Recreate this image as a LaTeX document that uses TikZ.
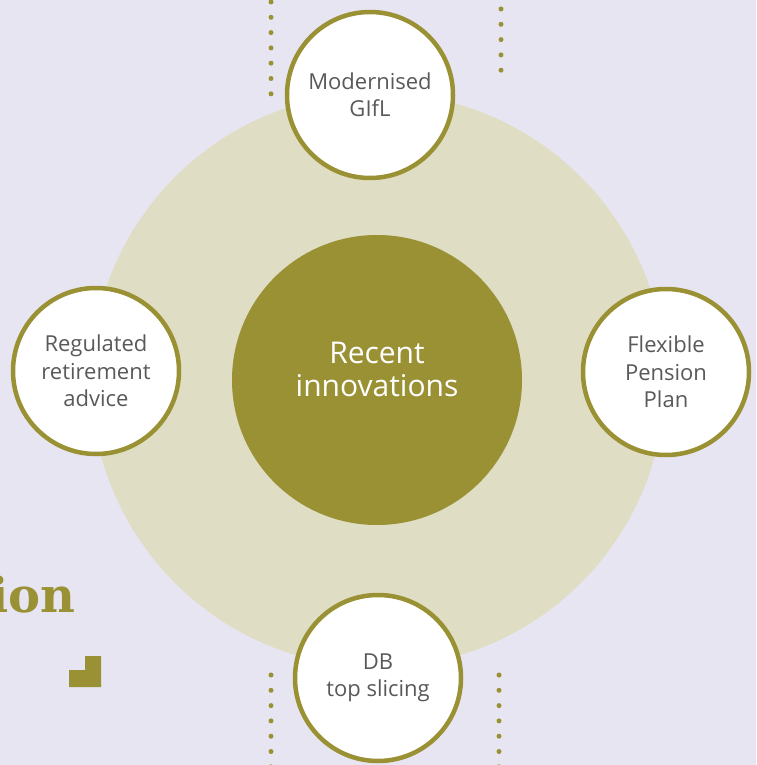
\documentclass[tikz,border=0pt]{standalone}
\usepackage{fontspec}
\setmainfont{Open Sans}
\newfontfamily\slabfont{DejaVu Serif}
\definecolor{bgLav}{HTML}{E7E5F2}
\definecolor{ringBeige}{HTML}{DFDDC3}
\definecolor{olive}{HTML}{999133}
\definecolor{txtGrey}{HTML}{58595B}
\begin{document}
\begin{tikzpicture}[x=1pt,y=-1pt,
  sat/.style={circle,draw=olive,line width=4.5pt,fill=white,minimum size=166pt,
    inner sep=0pt,align=center,text=txtGrey,font=\fontsize{22}{27.5}\selectfont},
  hub/.style={circle,fill=olive,minimum size=290pt,inner sep=0pt,align=center,
    text=white,font=\fontsize{30}{33}\selectfont},
  dotline/.style={olive,line width=5pt,line cap=round,dash pattern=on 0pt off 15.3pt}]
  % canvas
  \fill[bgLav] (0,0) rectangle (756,765);
  \useasboundingbox (0,0) rectangle (756,765);
  \begin{scope}
    \clip (0,0) rectangle (756,765);
    % dotted guide lines
    \coordinate (tlA) at (271,2);   \coordinate (tlB) at (271,94);
    \coordinate (trA) at (501,9);   \coordinate (trB) at (501,82);
    \coordinate (blA) at (271,675); \coordinate (blB) at (271,770);
    \coordinate (brA) at (499,675); \coordinate (brB) at (499,770);
    \draw[dotline] (tlA) -- (tlB);
    \draw[dotline] (trA) -- (trB);
    \draw[dotline] (blA) -- (blB);
    \draw[dotline] (brA) -- (brB);
    % background disc
    \fill[ringBeige] (378,380) circle (287);
    % heading fragment and marker
    \node[anchor=base west,inner sep=0pt,text=olive,
      font=\slabfont\bfseries\fontsize{48}{48}\selectfont] (head) at (-10,612) {ion};
    \fill[olive] (69,670) -- (85,670) -- (85,656) -- (101,656) -- (101,687) -- (69,687) -- cycle;
    % hub and satellites
    \node[hub] (hub) at (377,380) {};
    \node[text=white,align=center,font=\fontsize{30}{33}\selectfont] (hubtext) at (377,369) {Recent\\innovations};
    \node[sat] (top) at (370,95) {Modernised\\GIfL};
    \node[sat] (left) at (96,371) {Regulated\\retirement\\advice};
    \node[sat] (right) at (666,372) {Flexible\\Pension\\Plan};
    \node[sat] (bottom) at (378,678) {DB\\top slicing};
  \end{scope}
\end{tikzpicture}
\end{document}
